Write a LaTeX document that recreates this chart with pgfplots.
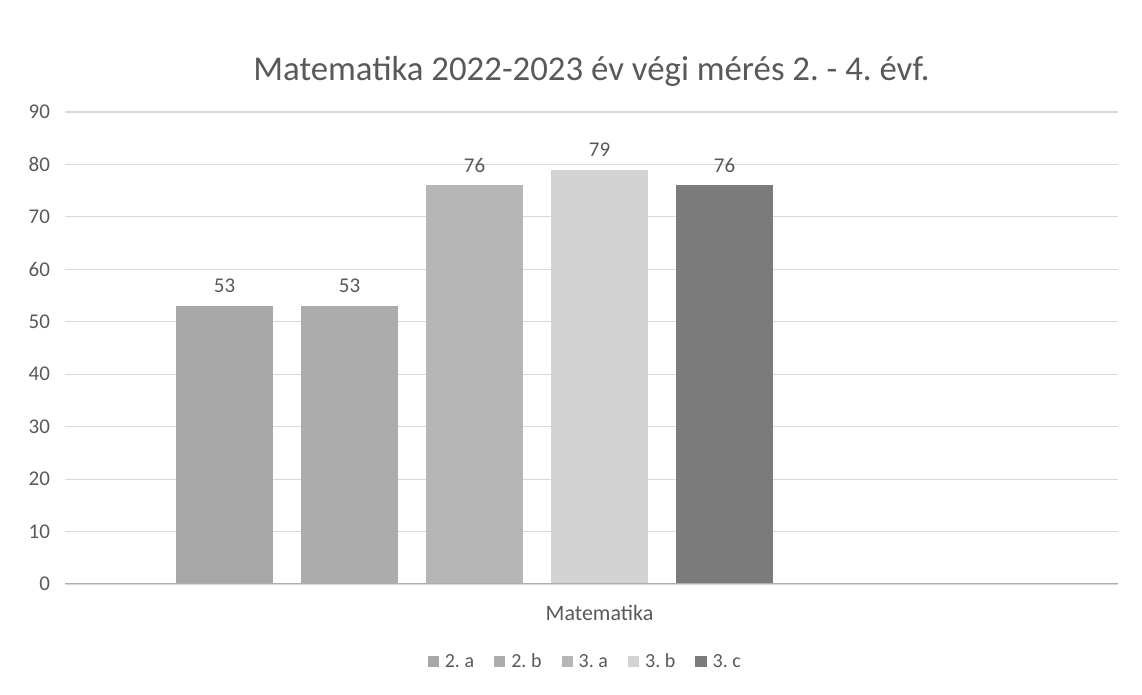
\documentclass[border=0pt]{standalone}
\usepackage{fontspec}
\setmainfont{Carlito}
\usepackage{pgfplots}
\pgfplotsset{compat=1.18}

\definecolor{txt}{HTML}{595959}
\definecolor{gridc}{HTML}{D9D9D9}
\definecolor{ca}{HTML}{A8A8A8}
\definecolor{cb}{HTML}{ACACAC}
\definecolor{cc}{HTML}{B6B6B6}
\definecolor{cd}{HTML}{D3D3D3}
\definecolor{ce}{HTML}{7B7B7B}

\begin{document}
\frenchspacing
\begin{tikzpicture}
\useasboundingbox (-32.5pt,-55.5pt) rectangle (538.5pt,292pt);
\begin{axis}[
  scale only axis,
  width=526.5pt, height=236pt,
  at={(0,0)}, anchor=south west,
  xmin=-0.276, xmax=8.148,
  ymin=0, ymax=90,
  ytick={0,10,...,90},
  xtick={4}, xticklabels={Matematika},
  major tick length=0pt,
  axis line style={draw=none},
  axis x line*=bottom,
  ymajorgrids, grid style={gridc, line width=0.6pt},
  tick label style={font=\fontsize{10.5}{12}\selectfont, text=txt},
  xticklabel style={font=\fontsize{11}{12}\selectfont, yshift=-7pt},
  /pgf/number format/assume math mode=true,
  yticklabel style={xshift=-4pt},
  title={Matematika 2022-2023 év végi mérés 2. - 4. évf.},
  title style={font=\fontsize{17.4}{20}\selectfont, text=txt, yshift=3pt},
  ybar, bar width=0.776, bar shift=0pt,
  nodes near coords,
  every node near coord/.append style={font=\fontsize{10.5}{12}\selectfont, text=txt, yshift=3pt},
  legend style={at={(0.495,-0.165)}, anchor=center, draw=none,
    font=\fontsize{10}{12}\selectfont, text=txt, legend columns=-1,
    nodes={text height=7pt, text depth=1.5pt},
    /tikz/every even column/.append style={column sep=8pt},
    /tikz/every odd column/.append style={column sep=1pt}},
  legend image code/.code={\fill[#1] (0pt,-2.8pt) rectangle (5.6pt,2.8pt);},
]
\addplot[draw=none, fill=ca] coordinates {(1,53)};
\addplot[draw=none, fill=cb] coordinates {(2,53)};
\addplot[draw=none, fill=cc] coordinates {(3,76)};
\addplot[draw=none, fill=cd] coordinates {(4,79)};
\addplot[draw=none, fill=ce] coordinates {(5,76)};
\legend{2. a, 2. b, 3. a, 3. b, 3. c}
\draw[color=gridc!80!black, line width=0.6pt] (axis cs:-0.276,0) -- (axis cs:8.148,0);
\end{axis}
\end{tikzpicture}
\end{document}
